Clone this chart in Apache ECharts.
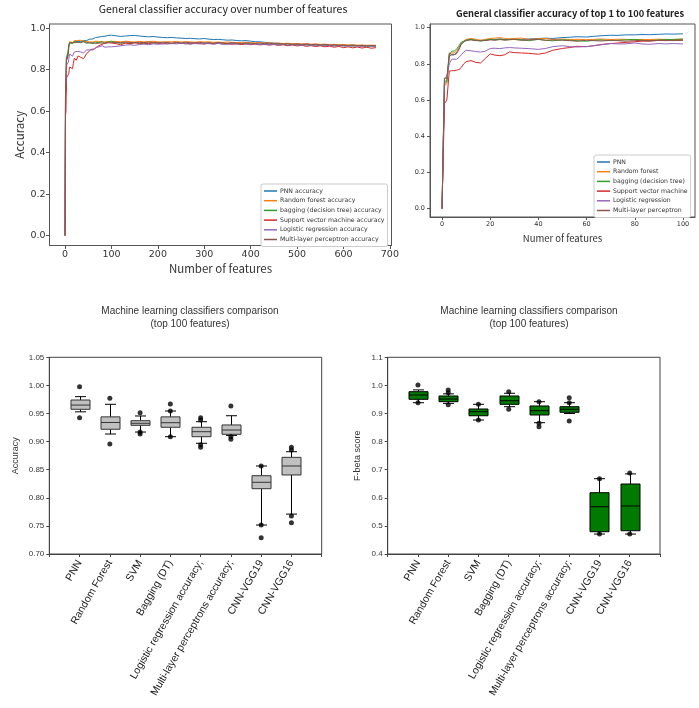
<!DOCTYPE html>
<html lang="en">
<head>
<meta charset="UTF-8">
<title>classifier comparison</title>
<script src="https://cdn.jsdelivr.net/npm/echarts@6.0.0/dist/echarts.min.js"></script>
<style>
	html,body{margin:0;padding:0;background:#fff;}
	#chart{width:699px;height:708px;}
</style>
</head>
<body>
<div id="chart"></div>
<script>
// ---- line charts: accuracy vs number of features ----
var lineNamesAll = ['PNN accuracy','Random forest accuracy','bagging (decision tree) accuracy','Support vector machine accuracy','Logistic regression accuracy','Multi-layer perceptron accuracy'];
var lineNamesTop = ['PNN','Random forest','bagging (decision tree)','Support vector machine','Logistic regression','Multi-layer perceptron'];
var lineColors = ['#1f77b4','#ff7f0e','#2ca02c','#d62728','#9467bd','#8c564b'];

// features 0..100 (shared by both top charts)
var topX = [0,1,2,3,4,5,6,7,8,9,10, 12,14,16,18,20,22,24,26,28,30, 33,36,40,43,46,50,53,56,60,63,66,70,73,76,80,83,86,90,93,96,100];
var pnnTop = [0,0.70,0.71,0.84,0.85,0.85,0.86,0.88,0.91,0.92,0.93, 0.935,0.93,0.928,0.932,0.936,0.935,0.937,0.934,0.936,0.938, 0.935,0.937,0.94,0.942,0.94,0.945,0.947,0.95,0.948,0.952,0.955,0.958,0.957,0.96,0.96,0.962,0.961,0.963,0.965,0.964,0.966];
var rfTop  = [0,0.68,0.69,0.85,0.86,0.86,0.87,0.89,0.915,0.925,0.935, 0.94,0.935,0.93,0.935,0.94,0.942,0.945,0.94,0.938,0.94, 0.942,0.935,0.938,0.94,0.935,0.937,0.934,0.936,0.933,0.935,0.937,0.934,0.936,0.935,0.933,0.935,0.934,0.936,0.935,0.934,0.936];
var bagTop = [0,0.69,0.70,0.85,0.87,0.87,0.88,0.90,0.92,0.925,0.93, 0.935,0.93,0.925,0.93,0.935,0.933,0.936,0.932,0.934,0.935, 0.932,0.928,0.935,0.93,0.927,0.933,0.93,0.928,0.925,0.93,0.932,0.928,0.93,0.932,0.935,0.93,0.928,0.932,0.934,0.935,0.937];
var svmTop = [0,0.58,0.60,0.76,0.762,0.762,0.765,0.768,0.78,0.80,0.812, 0.818,0.808,0.805,0.83,0.855,0.848,0.845,0.85,0.866,0.862, 0.86,0.858,0.853,0.86,0.875,0.885,0.89,0.897,0.895,0.9,0.907,0.912,0.915,0.918,0.922,0.925,0.925,0.93,0.928,0.93,0.931];
var lrTop  = [0,0.72,0.73,0.80,0.825,0.826,0.825,0.835,0.85,0.865,0.875, 0.872,0.868,0.865,0.87,0.885,0.886,0.884,0.888,0.89,0.888, 0.886,0.884,0.88,0.885,0.895,0.9,0.895,0.893,0.895,0.9,0.905,0.912,0.91,0.91,0.915,0.91,0.908,0.912,0.91,0.912,0.91];
var mlpTop = [0,0.72,0.72,0.86,0.85,0.85,0.855,0.88,0.91,0.92,0.93, 0.932,0.928,0.93,0.928,0.932,0.93,0.934,0.931,0.933,0.935, 0.93,0.932,0.935,0.93,0.932,0.93,0.928,0.925,0.93,0.928,0.926,0.93,0.928,0.925,0.928,0.93,0.927,0.929,0.93,0.928,0.93];

// features 110..670 (only in the full chart)
var tailX = [110,120,130,140,150,160,170,180,190,200, 210,220,230,240,250,260,270,280,290,300, 310,320,330,340,350,360,370,380,390,400, 410,420,430,440,450,460,470,480,490,500, 510,520,530,540,550,560,570,580,590,600, 610,620,630,640,650,660,670];
var pnnTail = [0.963,0.96,0.962,0.964,0.965,0.962,0.96,0.958,0.96,0.957, 0.955,0.954,0.955,0.953,0.952,0.95,0.951,0.949,0.948,0.95, 0.947,0.945,0.946,0.944,0.942,0.943,0.94,0.939,0.94,0.937, 0.935,0.934,0.932,0.93,0.928,0.927,0.925,0.926,0.924,0.923, 0.922,0.923,0.921,0.92,0.921,0.919,0.918,0.92,0.918,0.917, 0.916,0.918,0.916,0.915,0.916,0.915,0.914];
var rfTail  = [0.936,0.934,0.937,0.935,0.933,0.936,0.934,0.935,0.937,0.934, 0.933,0.935,0.934,0.936,0.933,0.935,0.934,0.932,0.935,0.933, 0.934,0.932,0.933,0.931,0.933,0.932,0.93,0.931,0.932,0.93, 0.929,0.93,0.928,0.929,0.927,0.928,0.926,0.927,0.925,0.926, 0.924,0.925,0.923,0.924,0.922,0.923,0.921,0.922,0.92,0.921, 0.919,0.92,0.918,0.919,0.917,0.918,0.917];
var bagTail = [0.93,0.927,0.929,0.926,0.93,0.928,0.925,0.929,0.927,0.93, 0.926,0.928,0.925,0.929,0.927,0.924,0.928,0.926,0.929,0.925, 0.927,0.925,0.928,0.926,0.924,0.927,0.925,0.923,0.926,0.924, 0.925,0.922,0.924,0.921,0.923,0.92,0.922,0.919,0.921,0.92, 0.918,0.92,0.917,0.919,0.916,0.918,0.917,0.915,0.917,0.914, 0.916,0.913,0.915,0.914,0.912,0.914,0.913];
var svmTail = [0.925,0.92,0.928,0.924,0.93,0.926,0.929,0.925,0.931,0.927, 0.924,0.929,0.926,0.93,0.925,0.928,0.924,0.929,0.926,0.923, 0.928,0.924,0.927,0.923,0.926,0.922,0.925,0.921,0.924,0.92, 0.923,0.919,0.922,0.918,0.921,0.917,0.92,0.915,0.919,0.914, 0.918,0.912,0.916,0.911,0.915,0.91,0.913,0.908,0.912,0.906, 0.91,0.905,0.909,0.904,0.908,0.903,0.906];
var lrTail  = [0.912,0.915,0.918,0.92,0.917,0.921,0.923,0.92,0.924,0.922, 0.925,0.923,0.926,0.924,0.927,0.925,0.923,0.926,0.924,0.927, 0.925,0.923,0.926,0.924,0.922,0.925,0.923,0.926,0.924,0.922, 0.924,0.921,0.923,0.92,0.922,0.919,0.921,0.918,0.92,0.919, 0.917,0.919,0.916,0.918,0.917,0.915,0.917,0.914,0.916,0.915, 0.913,0.915,0.914,0.912,0.914,0.913,0.912];
var mlpTail = [0.932,0.93,0.933,0.931,0.929,0.932,0.93,0.933,0.931,0.929, 0.932,0.93,0.928,0.931,0.929,0.932,0.93,0.928,0.931,0.929, 0.93,0.928,0.931,0.929,0.927,0.93,0.928,0.926,0.929,0.927, 0.926,0.928,0.925,0.927,0.924,0.926,0.923,0.925,0.922,0.924, 0.921,0.923,0.92,0.922,0.919,0.921,0.918,0.92,0.917,0.919, 0.916,0.918,0.915,0.917,0.914,0.916,0.915];

// ---- box plots (top 100 features) ----
var boxCats = ['PNN','Random Forest','SVM','Bagging (DT)','Logistic regression accuracy;','Multi-layer perceptrons accuracy;','CNN-VGG19','CNN-VGG16'];
// [lower whisker, Q1, median, Q3, upper whisker]
var accBoxes = [
	[0.953,0.9575,0.965,0.974,0.980],
	[0.9135,0.922,0.934,0.944,0.9664],
	[0.917,0.929,0.9326,0.9372,0.9456],
	[0.9087,0.9255,0.9336,0.944,0.9544],
	[0.897,0.9087,0.9176,0.9255,0.9354],
	[0.911,0.913,0.9206,0.9296,0.946],
	[0.7516,0.8162,0.8276,0.8393,0.8566],
	[0.771,0.8406,0.8566,0.872,0.882]
];
var accOutliers = [
	[0,0.9977],[0,0.9425],
	[1,0.977],[1,0.8957],
	[2,0.9514],[2,0.917],[2,0.9135],
	[3,0.967],[3,0.9544],[3,0.9087],
	[4,0.9425],[4,0.9384],[4,0.8945],[4,0.890],
	[5,0.9633],[5,0.9087],[5,0.904],
	[6,0.8566],[6,0.7516],[6,0.729],
	[7,0.890],[7,0.885],[7,0.7676],[7,0.7557]
];
var fbBoxes = [
	[0.9384,0.9505,0.9658,0.9776,0.984],
	[0.936,0.942,0.9516,0.9623,0.97],
	[0.8768,0.892,0.9064,0.916,0.9327],
	[0.9242,0.9327,0.9455,0.9623,0.972],
	[0.8673,0.8947,0.91,0.9268,0.942],
	[0.900,0.9043,0.915,0.9242,0.9384],
	[0.471,0.4793,0.5683,0.6181,0.668],
	[0.471,0.4829,0.5708,0.6491,0.685]
];
var fbOutliers = [
	[0,1.0014],[0,0.9384],
	[1,0.9836],[1,0.974],[1,0.9313],
	[2,0.9327],[2,0.8768],
	[3,0.9776],[3,0.915],
	[4,0.942],[4,0.865],[4,0.853],
	[5,0.9563],[5,0.9384],[5,0.8733],
	[6,0.668],[6,0.471],
	[7,0.6883],[7,0.471]
];

function pairs(xs, ys){ return xs.map(function(x,i){ return [x, ys[i]]; }); }

var topSets = [pnnTop, rfTop, bagTop, svmTop, lrTop, mlpTop];
var tailSets = [pnnTail, rfTail, bagTail, svmTail, lrTail, mlpTail];

function renderBox(fill, edge){
	return function(params, api){
		var x = api.value(0);
		var lo = api.coord([x, api.value(1)]);
		var q1 = api.coord([x, api.value(2)]);
		var md = api.coord([x, api.value(3)]);
		var q3 = api.coord([x, api.value(4)]);
		var hi = api.coord([x, api.value(5)]);
		var cx = Math.round(lo[0]) + 0.5, bw = 19, cw = 11;
		var ls = {stroke:'#000', lineWidth:1};
		return {type:'group', children:[
			{type:'line', shape:{x1:cx,y1:hi[1],x2:cx,y2:q3[1]}, style:ls},
			{type:'line', shape:{x1:cx,y1:q1[1],x2:cx,y2:lo[1]}, style:ls},
			{type:'line', shape:{x1:cx-cw/2,y1:hi[1],x2:cx+cw/2,y2:hi[1]}, style:ls},
			{type:'line', shape:{x1:cx-cw/2,y1:lo[1],x2:cx+cw/2,y2:lo[1]}, style:ls},
			{type:'rect', shape:{x:cx-bw/2,y:q3[1],width:bw,height:q1[1]-q3[1]}, style:{fill:fill, stroke:edge, lineWidth:1}},
			{type:'line', shape:{x1:cx-bw/2,y1:md[1],x2:cx+bw/2,y2:md[1]}, style:{stroke:edge, lineWidth:1}}
		]};
	};
}

var catAxisData = [''].concat(boxCats).concat(['']);
function boxData(boxes){ return boxes.map(function(b,i){ return [i+1].concat(b); }); }
function outData(outs){ return outs.map(function(o){ return [o[0]+1, o[1]]; }); }

var mplFont = 'DejaVu Sans';
var cjkFont = 'Noto Sans CJK TC';
var arial = 'Liberation Sans';

function mplAxis(opt){
	return Object.assign({
		type:'value', splitLine:{show:false},
		axisLine:{show:true, onZero:false, lineStyle:{color:'#555', width:1}},
		axisTick:{show:true, inside:false, length:3.5, lineStyle:{color:'#555'}},
		axisLabel:{color:'#333', fontFamily:mplFont, fontSize:9}
	}, opt);
}

var series = [];
lineNamesAll.forEach(function(n,k){
	series.push({
		name:n, type:'line', xAxisIndex:0, yAxisIndex:0, showSymbol:false, animation:false,
		lineStyle:{width:1, color:lineColors[k]}, itemStyle:{color:lineColors[k]},
		data: pairs(topX, topSets[k]).concat(pairs(tailX, tailSets[k]))
	});
});
lineNamesTop.forEach(function(n,k){
	series.push({
		name:n, type:'line', xAxisIndex:1, yAxisIndex:1, showSymbol:false, animation:false,
		lineStyle:{width:1, color:lineColors[k]}, itemStyle:{color:lineColors[k]},
		data: pairs(topX, topSets[k])
	});
});
series.push({type:'custom', xAxisIndex:2, yAxisIndex:2, renderItem:renderBox('#c0c0c0','#333'), encode:{x:0, y:[1,2,3,4,5]}, data:boxData(accBoxes), animation:false, silent:true});
series.push({type:'scatter', xAxisIndex:2, yAxisIndex:2, symbolSize:5, itemStyle:{color:'#000'}, data:outData(accOutliers), animation:false, z:5});
series.push({type:'custom', xAxisIndex:3, yAxisIndex:3, renderItem:renderBox('#007a00','#000'), encode:{x:0, y:[1,2,3,4,5]}, data:boxData(fbBoxes), animation:false, silent:true});
series.push({type:'scatter', xAxisIndex:3, yAxisIndex:3, symbolSize:5, itemStyle:{color:'#000'}, data:outData(fbOutliers), animation:false, z:5});

function catAxis(gi){
	return {
		type:'category', gridIndex:gi, data:catAxisData, boundaryGap:false,
		axisLine:{show:true, lineStyle:{color:'#444'}},
		axisTick:{show:true, length:3, lineStyle:{color:'#444'}},
		axisLabel:{interval:0, rotate:60, margin:7, color:'#222', fontFamily:arial, fontSize:10.5},
		splitLine:{show:false}
	};
}
function boxValAxis(gi, mn, mx, step, dec, name, gap){
	return {
		type:'value', gridIndex:gi, min:mn, max:mx, interval:step,
		name:name, nameLocation:'middle', nameGap:gap, nameRotate:90,
		nameTextStyle:{fontFamily:arial, fontSize:9, color:'#333'},
		axisLine:{show:true, lineStyle:{color:'#444'}},
		axisTick:{show:true, length:3, lineStyle:{color:'#444'}},
		axisLabel:{margin:5, color:'#333', fontFamily:arial, fontSize:8, formatter:function(v){ return v.toFixed(dec); }},
		splitLine:{show:false}
	};
}

var legendBase = {
	orient:'vertical', icon:'rect', itemWidth:13, itemHeight:1.5, itemGap:1.7,
	backgroundColor:'#fff', borderColor:'#ccc', borderWidth:1, borderRadius:2, padding:[3,3,3,3],
	textStyle:{fontFamily:mplFont, fontSize:6.2, lineHeight:8, color:'#333', padding:[0,0,0,-2]},
	selectedMode:false
};

var option = {
	backgroundColor:'#fff',
	animation:false,
	title:[
		{text:'General classifier accuracy over number of features', left:218, top:-1, textAlign:'center',
			textStyle:{fontFamily:cjkFont, fontSize:10.5, fontWeight:'normal', color:'#222'}},
		{text:'General classifier accuracy of top 1 to 100 features', left:565, top:4, textAlign:'center',
			textStyle:{fontFamily:cjkFont, fontSize:9.3, fontWeight:'bold', color:'#222'}},
		{text:'Machine learning classifiers comparison\n(top 100 features)', left:185, top:300, textAlign:'center',
			textStyle:{fontFamily:arial, fontSize:10, lineHeight:12.6, fontWeight:'normal', color:'#333'}},
		{text:'Machine learning classifiers comparison\n(top 100 features)', left:524, top:300, textAlign:'center',
			textStyle:{fontFamily:arial, fontSize:10, lineHeight:12.6, fontWeight:'normal', color:'#333'}}
	],
	legend:[
		Object.assign({}, legendBase, {data:lineNamesAll, left:261, top:184}),
		Object.assign({}, legendBase, {data:lineNamesTop, left:594, top:155})
	],
	grid:[
		{left:40, top:24, width:351.5, height:221.5, show:true, borderColor:'#555', borderWidth:1, backgroundColor:'transparent'},
		{left:430, top:24, width:265, height:193, show:true, borderColor:'#555', borderWidth:1, backgroundColor:'transparent'},
		{left:49.3, top:357.3, width:272.4, height:196.7, show:true, borderColor:'#444', borderWidth:1, backgroundColor:'transparent'},
		{left:387.7, top:357.3, width:272.3, height:196.7, show:true, borderColor:'#444', borderWidth:1, backgroundColor:'transparent'}
	],
	xAxis:[
		mplAxis({gridIndex:0, min:-33.5, max:703.5,
			axisTick:{show:true, length:3.5, lineStyle:{color:'#555'}, customValues:[0,100,200,300,400,500,600,700]},
			axisLabel:{color:'#333', fontFamily:mplFont, fontSize:9.5, margin:4, customValues:[0,100,200,300,400,500,600,700]},
			name:'Number of features', nameLocation:'middle', nameGap:17,
			nameTextStyle:{fontFamily:cjkFont, fontSize:11.5, color:'#333'}}),
		mplAxis({gridIndex:1, min:-5, max:105,
			axisTick:{show:true, length:3, lineStyle:{color:'#555'}, customValues:[0,20,40,60,80,100]},
			axisLabel:{color:'#333', fontFamily:mplFont, fontSize:6.5, margin:4, customValues:[0,20,40,60,80,100]},
			name:'Numer of features', nameLocation:'middle', nameGap:17,
			nameTextStyle:{fontFamily:cjkFont, fontSize:9.5, color:'#333'}}),
		catAxis(2),
		catAxis(3)
	],
	yAxis:[
		mplAxis({gridIndex:0, min:-0.048, max:1.02,
			axisTick:{show:true, length:3.5, lineStyle:{color:'#555'}, customValues:[0,0.2,0.4,0.6,0.8,1.0]},
			axisLabel:{color:'#333', fontFamily:mplFont, fontSize:9.5, margin:4, customValues:[0,0.2,0.4,0.6,0.8,1.0], formatter:function(v){ return v.toFixed(1); }},
			name:'Accuracy', nameLocation:'middle', nameGap:24, nameRotate:90,
			nameTextStyle:{fontFamily:cjkFont, fontSize:11.5, color:'#333'}}),
		mplAxis({gridIndex:1, min:-0.046, max:1.02,
			axisTick:{show:true, length:3, lineStyle:{color:'#555'}, customValues:[0,0.2,0.4,0.6,0.8,1.0]},
			axisLabel:{color:'#333', fontFamily:mplFont, fontSize:6.5, margin:5, customValues:[0,0.2,0.4,0.6,0.8,1.0], formatter:function(v){ return v.toFixed(1); }}}),
		boxValAxis(2, 0.70, 1.05, 0.05, 2, 'Accuracy', 29),
		boxValAxis(3, 0.4, 1.1, 0.1, 1, 'F-beta score', 26)
	],
	series:series
};

var myChart = echarts.init(document.getElementById('chart'));
myChart.setOption(option);
</script>
</body>
</html>
